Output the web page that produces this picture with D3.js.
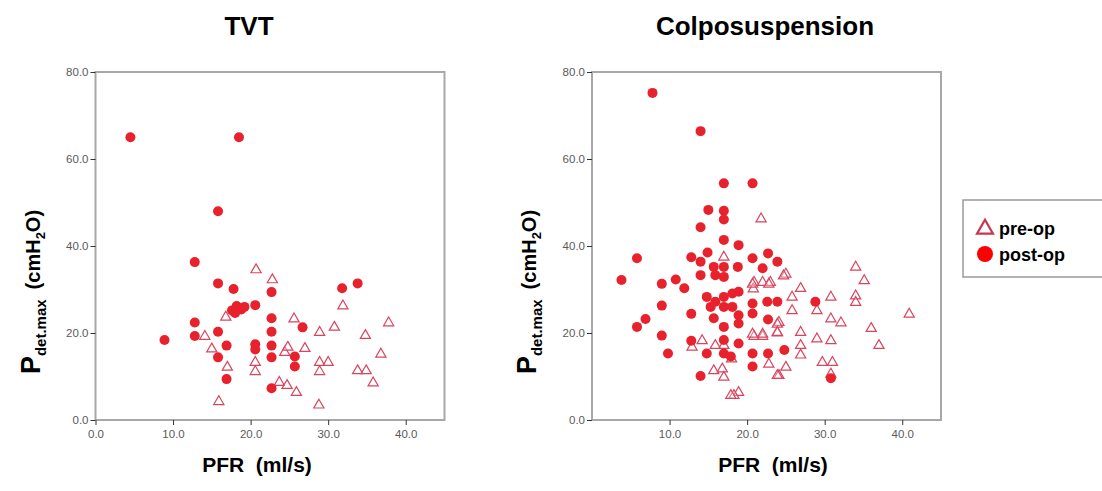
<!DOCTYPE html>
<meta charset="utf-8">
<style>
body { margin: 0; background: #fff; }
text { font-family: "Liberation Sans", Arial, sans-serif; }
.tick text { font-size: 11.5px; fill: #5a5a5a; }
.tick line { stroke: #333; }
</style>
<body>
<svg width="1102" height="491"></svg>
<script src="https://cdn.jsdelivr.net/npm/d3@7/dist/d3.min.js"></script>
<script>
// PFR (ml/s), Pdet.max (cmH2O)
var tvtPre = [[20.7,34.3],[22.8,32.0],[16.8,23.4],[14.1,19.0],[15.0,16.1],[17.0,11.9],[15.9,4.0],
  [20.6,13.0],[20.6,10.9],[23.7,8.4],[24.7,7.7],[25.9,6.1],[24.4,15.3],[24.8,16.5],[25.6,23.0],
  [27.0,16.2],[28.9,19.9],[30.8,21.1],[28.9,13.0],[30.0,13.0],[28.9,10.9],[28.8,3.2],[31.9,26.0],
  [34.8,19.2],[37.8,22.1],[36.8,14.9],[33.8,11.1],[34.9,11.1],[35.8,8.3]];
var tvtPost = [[4.5,65],[18.5,65],[15.8,48],[12.8,36.3],[15.8,31.4],[17.8,30.1],[17.6,25.2],
  [18.2,26.2],[18.8,25.4],[19.2,26],[18,24.6],[20.6,26.4],[22.7,29.4],[12.8,22.4],[12.8,19.3],
  [8.9,18.4],[15.8,20.3],[16.9,17.1],[15.8,14.4],[16.9,9.4],[20.6,17.4],[20.6,16.2],[22.7,23.4],
  [22.7,20.3],[22.7,17.1],[22.7,14.4],[22.7,7.3],[26.7,21.3],[25.7,14.6],[25.7,12.3],[31.8,30.3],
  [33.8,31.4]];
var colpoPre = [[25.0,33.3],[20.9,31.4],[22.0,31.4],[23.0,31.4],[20.8,29.9],[26.9,30.0],[25.8,28.0],
  [30.8,28.0],[34.0,34.9],[35.1,31.8],[34.0,28.3],[34.0,26.8],[25.8,24.9],[29.0,24.9],[24.1,22.2],
  [30.8,23.0],[32.1,22.1],[40.9,24.1],[36.0,20.8],[37.0,16.9],[20.9,19.0],[22.0,19.0],[23.9,19.8],
  [26.9,19.9],[29.0,18.4],[30.8,18.0],[26.9,16.9],[26.9,14.7],[22.8,12.6],[25.0,11.9],[24.1,10.0],
  [29.7,13.0],[31.0,13.0],[30.8,10.3],[18.9,6.1],[18.3,5.4],[21.8,46.0],[17.0,37.2],[24.7,32.9],
  [20.7,31.0],[22.8,31.0],[20.7,19.5],[22.0,19.5],[12.9,16.5],[14.2,18.0],[17.0,16.9],[23.9,21.8],
  [23.9,19.9],[18.0,13.8],[15.7,11.1],[16.8,11.5],[17.0,9.6],[23.9,10.0],[15.9,16.9],[17.9,5.4]];
var colpoPost = [[7.8,75.2],[14.0,66.4],[17.0,54.4],[20.7,54.4],[15.0,48.3],[17.0,48.1],[17.0,46.1],
  [14.0,44.3],[17.0,41.4],[18.9,40.2],[5.8,37.2],[3.8,32.2],[9.0,31.3],[10.8,32.3],[11.9,30.3],
  [9.0,26.3],[6.9,23.2],[5.8,21.4],[9.0,19.4],[9.8,15.3],[12.8,24.4],[12.8,37.4],[14.9,38.5],
  [14.0,36.4],[15.7,35.2],[17.0,35.2],[18.8,35.2],[20.7,37.2],[22.7,38.3],[23.9,36.4],[22.0,34.9],
  [14.0,33.3],[15.9,33.3],[17.0,32.9],[14.8,28.3],[15.9,27.2],[17.0,28.3],[18.1,29.1],[18.9,29.5],
  [15.3,26.0],[17.0,26.0],[18.1,26.0],[20.7,26.8],[22.6,27.2],[23.9,27.2],[15.7,23.4],[17.0,21.4],
  [18.9,24.1],[18.9,22.2],[20.7,24.5],[22.7,23.1],[12.8,18.2],[17.0,18.4],[18.9,17.6],[14.8,15.3],
  [17.0,15.3],[20.7,15.3],[20.7,12.3],[22.7,15.3],[24.8,16.1],[14.0,10.1],[17.9,14.6],[28.8,27.2],
  [30.8,9.6]];

var xTicksTvt = [0, 10, 20, 30, 40];
var xTicksColpo = [10, 20, 30, 40];
var yTicks = [0, 20, 40, 60, 80];

var svg = d3.select("svg");
var circleColor = "#e8222c";
var triColor = "#d9455f";

function panel(opts) {
  var x = d3.scaleLinear().domain([0, 45]).range([opts.left, opts.left + 349]);
  var y = d3.scaleLinear().domain([0, 80]).range([420, 72]);
  var g = svg.append("g");

  g.append("rect")
      .attr("x", x(0)).attr("y", y(80))
      .attr("width", x(45) - x(0)).attr("height", y(0) - y(80))
      .attr("fill", "none").attr("stroke", "#a8a8a8").attr("stroke-width", 2);

  var ya = g.append("g")
      .attr("transform", "translate(" + x(0) + ",0)")
      .call(d3.axisLeft(y).tickValues(yTicks).tickSize(5).tickPadding(2).tickFormat(d3.format(".1f")));
  ya.select(".domain").remove();

  var xa = g.append("g")
      .attr("transform", "translate(0," + y(0) + ")")
      .call(d3.axisBottom(x).tickValues(opts.xTicks).tickSize(5).tickPadding(5).tickFormat(d3.format(".1f")));
  xa.select(".domain").remove();

  g.append("g").selectAll("path")
    .data(opts.pre)
    .enter().append("path")
      .attr("d", d3.symbol().type(d3.symbolTriangle).size(45))
      .attr("transform", function(d) { return "translate(" + x(d[0]) + "," + (y(d[1]) - 1) + ")"; })
      .attr("fill", "#fff").attr("fill-opacity", 0.3)
      .attr("stroke", triColor).attr("stroke-width", 1.2);

  g.append("g").selectAll("circle")
    .data(opts.post)
    .enter().append("circle")
      .attr("cx", function(d) { return x(d[0]); })
      .attr("cy", function(d) { return y(d[1]); })
      .attr("r", 5)
      .attr("fill", circleColor);

  g.append("text")
      .attr("x", opts.titleX).attr("y", 35)
      .attr("text-anchor", "middle")
      .attr("font-size", 26).attr("font-weight", "bold")
      .text(opts.title);

  g.append("text")
      .attr("x", opts.titleX + 8).attr("y", 472)
      .attr("text-anchor", "middle")
      .attr("font-size", 21).attr("font-weight", "bold")
      .attr("xml:space", "preserve")
      .text("PFR  (ml/s)");

  var yl = g.append("text")
      .attr("transform", "translate(" + (x(0) - 56) + ",292) rotate(-90)")
      .attr("text-anchor", "middle")
      .attr("font-weight", "bold");
  yl.append("tspan").attr("font-size", 27).text("P");
  yl.append("tspan").attr("font-size", 15).attr("dy", 6).text("det.max");
  yl.append("tspan").attr("font-size", 20).attr("dy", -6).attr("dx", 10).text("(cmH");
  yl.append("tspan").attr("font-size", 13).attr("dy", 5).text("2");
  yl.append("tspan").attr("font-size", 20).attr("dy", -5).text("O)");
}

panel({ left: 95.5, title: "TVT", titleX: 249, xTicks: xTicksTvt, pre: tvtPre, post: tvtPost });
panel({ left: 592, title: "Colposuspension", titleX: 765, xTicks: xTicksColpo, pre: colpoPre, post: colpoPost });

// legend
var lg = svg.append("g");
lg.append("rect")
    .attr("x", 963).attr("y", 200).attr("width", 145).attr("height", 77)
    .attr("fill", "#fff").attr("stroke", "#999").attr("stroke-width", 1.5);
lg.append("path")
    .attr("d", d3.symbol().type(d3.symbolTriangle).size(110))
    .attr("transform", "translate(985,229)")
    .attr("fill", "none").attr("stroke", "#c8374f").attr("stroke-width", 2.2);
lg.append("circle").attr("cx", 985).attr("cy", 254).attr("r", 8).attr("fill", "#f00");
lg.append("text").attr("x", 999).attr("y", 235).attr("font-size", 18).attr("font-weight", "bold").text("pre-op");
lg.append("text").attr("x", 999).attr("y", 261).attr("font-size", 18).attr("font-weight", "bold").text("post-op");
</script>
</body>
